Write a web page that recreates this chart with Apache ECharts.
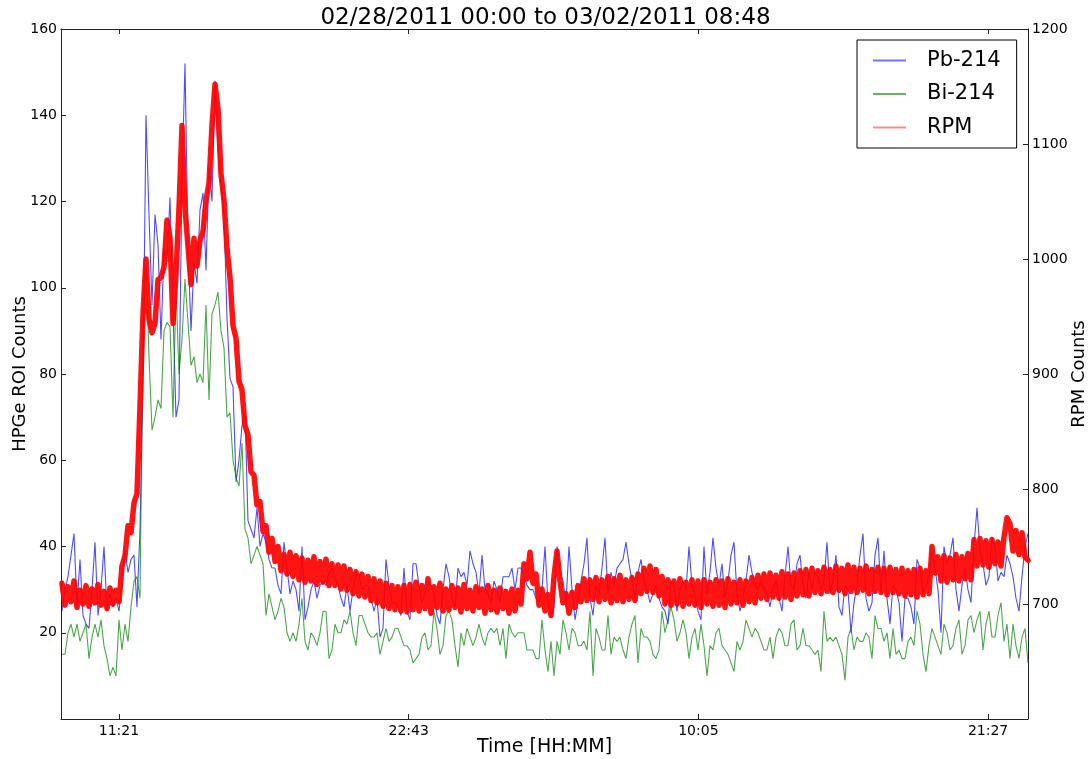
<!DOCTYPE html>
<html><head><meta charset="utf-8">
<script src="https://cdn.jsdelivr.net/npm/echarts@6/dist/echarts.min.js"></script>
<style>html,body{margin:0;padding:0;background:#fff}#c{width:1091px;height:759px}</style>
</head><body><div id="c"></div>
<script>
const titleText = '02/28/2011 00:00 to 03/02/2011 08:48';
// sample times: minutes after 02/28/2011 00:00
const timeStart = 546.85;
const timeStep = 7.0625;
const timeTicks = [681, 1363, 2045, 2727];
const timeTickLabels = ['11:21', '22:43', '10:05', '21:27'];
const leftTicks = [0, 20, 40, 60, 80, 100, 120, 140, 160];
const rightTicks = [600, 700, 800, 900, 1000, 1100, 1200];

const pb214 = [
25,30,33,38,43,26,37,24,22,21,30,41,24,30,40,25,29,26,28,25,32,39,34,37,38,26,44,
78,140,117,96,117,110,88,109,106,121,95,70,74,125,152,110,90,106,101,118,122,104,128,120,148,132,125,117,93,
79,77,55,60,68,71,46,44,42,49,40,43,41,37,35,35,31,29,41,35,29,32,30,25,40,23,26,30,32,28,
31,32,31,34,35,33,31,28,26,31,25,30,34,33,30,31,31,28,25,28,19,21,37,31,27,27,26,24,35,25,23,36,
36,31,27,29,32,31,29,24,22,30,36,33,28,26,35,33,34,31,39,36,34,29,38,30,29,27,32,30,27,33,
33,33,35,30,35,35,33,31,30,30,28,27,30,40,27,24,26,40,34,32,27,40,30,23,27,32,36,42,28,24,31,29,35,
42,29,34,31,35,36,37,41,36,32,28,34,37,32,30,27,29,31,28,26,25,22,32,31,25,30,32,30,40,31,
29,25,23,40,29,34,42,35,31,36,28,32,38,41,29,25,28,32,38,34,31,30,32,30,29,26,30,32,28,25,33,40,31,30,36,
38,31,28,34,30,34,33,30,32,41,29,32,38,26,24,31,30,20,27,31,38,43,28,25,27,38,42,29,39,28,
22,31,30,27,18,28,28,26,22,37,35,29,31,33,39,35,30,20,40,36,38,42,30,25,31,35,30,27,40,49,
39,36,31,33,42,40,32,34,33,38,36,33,28,25,33,40,43
];

const bi214 = [
15,15,20,22,19,22,18,20,22,14,19,22,19,23,17,14,10,12,10,23,16,22,18,26,32,33,28,
90,106,84,67,70,74,72,90,92,91,70,100,80,88,102,92,82,84,78,80,78,96,74,94,96,99,90,86,70,
71,60,56,54,64,44,42,36,38,40,38,36,24,29,26,23,25,28,26,20,18,20,18,22,28,18,16,20,19,17,
20,25,25,14,16,22,20,20,23,22,25,20,17,24,24,22,20,19,19,20,15,18,21,18,19,21,21,19,17,17,16,13,
14,15,19,20,16,17,25,21,15,17,24,25,23,17,12,20,17,21,19,17,19,22,19,17,20,21,20,21,17,21,
14,22,20,19,20,20,20,16,16,16,14,14,23,16,11,18,10,18,15,23,20,16,21,20,17,17,18,16,25,10,21,19,16,
16,24,15,19,18,19,16,14,19,22,24,13,21,19,19,18,15,14,16,25,20,23,26,23,18,20,23,20,14,19,
21,16,22,17,10,17,16,20,21,17,16,15,13,11,18,16,18,23,21,19,21,20,18,16,16,19,14,19,21,20,17,17,22,23,16,
17,21,17,17,16,15,16,11,25,18,19,18,19,17,15,9,19,21,16,19,18,18,20,19,14,24,21,21,18,20,
14,21,15,16,14,14,18,19,17,25,22,15,11,17,21,19,17,15,22,20,16,17,21,23,15,17,23,24,20,23,
25,16,22,25,19,19,24,27,18,22,14,22,17,14,19,21,13
];

const rpm = [
718,699,715,702,720,697,712,700,716,698,713,701,717,699,711,696,714,700,712,702,733,742,768,762,788,796,872,
952,1000,948,936,944,982,984,993,1034,1018,944,987,1044,1116,1044,1011,978,1018,994,1016,1024,1051,1066,1116,1152,1131,1074,1051,1009,
984,942,931,894,886,855,847,815,812,786,789,763,768,745,757,737,750,729,743,726,745,724,742,721,740,719,738,720,741,717,
737,719,739,716,735,716,734,713,733,712,730,709,728,707,726,706,724,703,722,701,720,698,718,696,716,695,715,694,716,693,717,695,
719,694,716,696,722,692,715,697,718,694,713,695,716,697,714,693,717,696,712,694,715,697,713,692,716,695,712,693,714,696,
711,692,713,694,712,700,735,722,745,718,726,699,713,694,708,690,724,746,720,701,709,692,710,697,716,702,722,703,721,704,723,702,721,
704,724,701,722,703,725,702,721,704,723,703,726,709,731,711,733,710,730,707,724,700,721,699,720,700,722,698,719,700,721,
699,720,697,721,700,719,698,721,699,720,697,722,700,719,701,721,699,720,702,723,701,725,705,726,704,727,706,725,705,728,706,726,704,727,707,
729,708,730,707,731,710,729,709,732,711,730,710,733,712,731,709,734,711,732,710,731,712,733,709,730,711,732,710,731,708,
732,710,730,709,731,707,729,708,730,706,731,708,729,709,750,727,741,720,742,719,740,721,743,720,741,722,744,721,756,733,
757,734,755,732,756,735,754,733,758,775,770,746,764,743,762,741,738
];

const FONT = 'DejaVu Sans';
const toPairs = arr => arr.map((v, i) => [timeStart + i * timeStep, v]);
const tickLabel = v => { const k = timeTicks.indexOf(v); return k >= 0 ? timeTickLabels[k] : ''; };

const chart = echarts.init(document.getElementById('c'), null, {renderer: 'canvas'});
const axisLineStyle = {color: '#222', width: 1};
chart.setOption({
  animation: false,
  backgroundColor: '#fff',
  title: {
    text: titleText, left: 'center', top: 2,
    textStyle: {fontFamily: FONT, fontSize: 23, fontWeight: 'normal', color: '#000'}
  },
  legend: {
    orient: 'vertical', left: 857, top: 40,
    padding: [10, 16, 10, 16],
    borderColor: '#000', borderWidth: 1, backgroundColor: '#fff',
    itemWidth: 33, itemHeight: 2, itemGap: 12.5, icon: 'rect',
    textStyle: {fontFamily: FONT, fontSize: 21, color: '#000', lineHeight: 21, padding: [0, 0, 0, 16]},
    data: ['Pb-214', 'Bi-214', 'RPM']
  },
  grid: {left: 61, right: 63, top: 29, bottom: 40, containLabel: false, outerBoundsMode: 'none'},
  xAxis: [{
    type: 'value', min: 544.5, max: 2821, position: 'bottom',
    name: 'Time [HH:MM]', nameLocation: 'middle', nameGap: 19, nameMoveOverlap: false,
    nameTextStyle: {fontFamily: FONT, fontSize: 19, color: '#000'},
    axisLine: {show: true, onZero: false, lineStyle: axisLineStyle},
    axisTick: {show: true, inside: true, length: 5, customValues: timeTicks, lineStyle: axisLineStyle},
    axisLabel: {customValues: timeTicks, formatter: tickLabel, fontFamily: FONT, fontSize: 14, color: '#000', margin: 5},
    splitLine: {show: false}
  }, {
    type: 'value', min: 544.5, max: 2821, position: 'top',
    axisLine: {show: true, onZero: false, lineStyle: axisLineStyle},
    axisTick: {show: true, inside: true, length: 5, customValues: timeTicks, lineStyle: axisLineStyle},
    axisLabel: {show: false},
    splitLine: {show: false}
  }],
  yAxis: [{
    type: 'value', min: leftTicks[0], max: leftTicks[leftTicks.length - 1], interval: 20, position: 'left',
    name: 'HPGe ROI Counts', nameLocation: 'middle', nameGap: 32, nameRotate: 90, nameMoveOverlap: false,
    nameTextStyle: {fontFamily: FONT, fontSize: 18, color: '#000'},
    axisLine: {show: true, onZero: false, lineStyle: axisLineStyle},
    axisTick: {show: true, inside: true, length: 5, lineStyle: axisLineStyle},
    axisLabel: {fontFamily: FONT, fontSize: 14, color: '#000', margin: 4, showMinLabel: false, formatter: v => String(v)},
    splitLine: {show: false}
  }, {
    type: 'value', min: rightTicks[0], max: rightTicks[rightTicks.length - 1], interval: 100, position: 'right',
    name: 'RPM Counts', nameLocation: 'middle', nameGap: 42, nameRotate: 90, nameMoveOverlap: false,
    nameTextStyle: {fontFamily: FONT, fontSize: 18, color: '#000'},
    axisLine: {show: true, onZero: false, lineStyle: axisLineStyle},
    axisTick: {show: true, inside: true, length: 5, lineStyle: axisLineStyle},
    axisLabel: {fontFamily: FONT, fontSize: 14, color: '#000', margin: 4, showMinLabel: false, formatter: v => String(v)},
    splitLine: {show: false}
  }],
  series: [{
    name: 'Pb-214', type: 'line', xAxisIndex: 0, yAxisIndex: 0, showSymbol: false, symbol: 'none',
    data: toPairs(pb214), color: 'rgba(0,0,255,0.7)',
    lineStyle: {width: 1.1, color: 'rgba(0,0,255,0.7)'}, itemStyle: {color: 'rgba(0,0,255,0.55)'}
  }, {
    name: 'Bi-214', type: 'line', xAxisIndex: 0, yAxisIndex: 0, showSymbol: false, symbol: 'none',
    data: toPairs(bi214), color: 'rgba(0,128,0,0.7)',
    lineStyle: {width: 1.1, color: 'rgba(0,128,0,0.7)'}, itemStyle: {color: 'rgba(0,128,0,0.6)'}
  }, {
    name: 'RPM', type: 'line', xAxisIndex: 0, yAxisIndex: 1, showSymbol: false, symbol: 'none',
    data: toPairs(rpm), color: 'rgb(255,0,0)',
    lineStyle: {width: 5.5, color: 'rgba(255,0,0,0.92)', join: 'round', cap: 'round'}, itemStyle: {color: 'rgba(255,0,0,0.45)'}
  }]
});
</script>
</body></html>
